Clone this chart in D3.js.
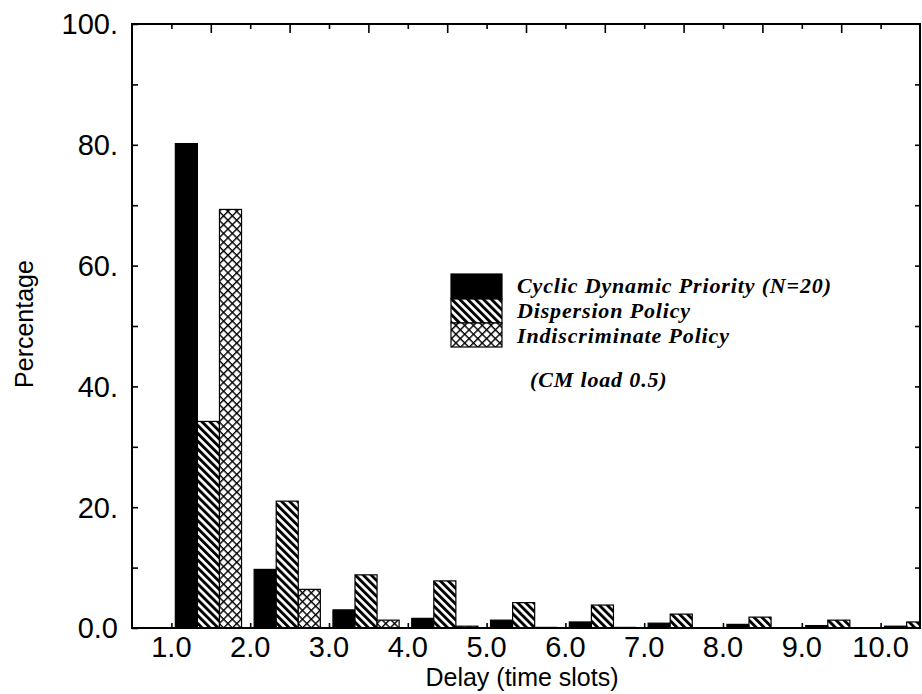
<!DOCTYPE html>
<html>
<head>
<meta charset="utf-8">
<script src="https://cdn.jsdelivr.net/npm/d3@7"></script>
<style>
  html, body { margin: 0; padding: 0; background: #fff; }
  svg { display: block; }
</style>
</head>
<body>
<svg id="chart" width="922" height="694"></svg>
<script>
// ---- data ----
const delays = [1, 2, 3, 4, 5, 6, 7, 8, 9, 10];
const cyclicDynamic = [80.2, 9.7, 3.0, 1.6, 1.3, 1.0, 0.8, 0.6, 0.4, 0.3];
const dispersion = [34.2, 21.0, 8.8, 7.8, 4.2, 3.8, 2.3, 1.8, 1.3, 1.0];
const indiscriminate = [69.3, 6.4, 1.3, 0.3, 0.1, 0.1, 0.05, 0.05, 0.05, 0.05];
const seriesNames = ["Cyclic Dynamic Priority (N=20)", "Dispersion Policy", "Indiscriminate Policy"];
const yTickValues = [0, 20, 40, 60, 80, 100];
const yTickLabels = ["0.0", "20.", "40.", "60.", "80.", "100."];
const xTickLabels = ["1.0", "2.0", "3.0", "4.0", "5.0", "6.0", "7.0", "8.0", "9.0", "10.0"];
const xTitle = "Delay (time slots)";
const yTitle = "Percentage";
const note = "(CM load 0.5)";

// ---- layout ----
const svg = d3.select("#chart");
const L = 132, R = 920, T = 24, B = 628;
const x = d3.scaleLinear().domain([0.5, 10.5]).range([L, R]);
const y = d3.scaleLinear().domain([0, 100]).range([B, T]);
const sub = d3.scaleBand().domain(seriesNames).range([0.05, 0.89]).padding(0);

// patterns
const defs = svg.append("defs");
const hp = 5.6;
const hatch = defs.append("pattern").attr("id", "hatch")
  .attr("patternUnits", "userSpaceOnUse").attr("width", hp).attr("height", hp)
  .attr("patternTransform", "rotate(-45)");
hatch.append("rect").attr("width", hp).attr("height", hp).attr("fill", "#fff");
hatch.append("rect").attr("width", 2.9).attr("height", hp).attr("fill", "#000");

const cp = 6.2;
const cross = defs.append("pattern").attr("id", "cross")
  .attr("patternUnits", "userSpaceOnUse").attr("width", cp).attr("height", cp)
  .attr("patternTransform", "rotate(45)");
cross.append("rect").attr("width", cp).attr("height", cp).attr("fill", "#fff");
cross.append("rect").attr("width", 1.4).attr("height", cp).attr("fill", "#000");
cross.append("rect").attr("width", cp).attr("height", 1.4).attr("fill", "#000");

defs.append("clipPath").attr("id", "plotclip").append("rect")
  .attr("x", L).attr("y", T).attr("width", R - L).attr("height", B - T);

const fills = ["#000", "url(#hatch)", "url(#cross)"];
const seriesData = [cyclicDynamic, dispersion, indiscriminate];

// bars
const barG = svg.append("g").attr("clip-path", "url(#plotclip)");
seriesData.forEach((vals, si) => {
  const name = seriesNames[si];
  barG.selectAll(null).data(delays.map((d, i) => ({ d, v: vals[i] })))
    .enter().append("rect")
    .attr("x", p => x(p.d + sub(name)))
    .attr("width", p => x(p.d + sub(name) + sub.bandwidth()) - x(p.d + sub(name)))
    .attr("y", p => y(p.v))
    .attr("height", p => y(0) - y(p.v))
    .attr("fill", fills[si])
    .attr("stroke", "#000").attr("stroke-width", 1.2);
});

// frame
svg.append("rect").attr("x", L).attr("y", T).attr("width", R - L).attr("height", B - T)
  .attr("fill", "none").attr("stroke", "#000").attr("stroke-width", 2);

// axes ticks
const tickStyle = g => g.selectAll("line").attr("stroke", "#000").attr("stroke-width", 1.6);
svg.append("g").attr("transform", `translate(${L},0)`)
  .call(d3.axisRight(y).tickValues(d3.range(0, 101, 10)).tickSize(6).tickFormat(""))
  .call(g => g.select(".domain").remove()).call(tickStyle);
svg.append("g").attr("transform", `translate(${R},0)`)
  .call(d3.axisLeft(y).tickValues(d3.range(10, 100, 10)).tickSize(5).tickFormat(""))
  .call(g => g.select(".domain").remove()).call(tickStyle);
svg.append("g").attr("transform", `translate(0,${B})`)
  .call(d3.axisTop(x).tickValues(delays).tickSize(5).tickFormat(""))
  .call(g => g.select(".domain").remove()).call(tickStyle);
svg.append("g").attr("transform", `translate(0,${T})`)
  .call(d3.axisBottom(x).tickValues(delays.map(d => d + 0.5).filter(d => d < 10.5)).tickSize(9).tickFormat(""))
  .call(g => g.select(".domain").remove()).call(tickStyle);
svg.append("g").attr("transform", `translate(0,${T})`)
  .call(d3.axisBottom(x).tickValues(delays).tickSize(5).tickFormat(""))
  .call(g => g.select(".domain").remove()).call(tickStyle);

// tick labels
const sans = "'Liberation Sans', Arial, Helvetica, sans-serif";
svg.append("g").selectAll("text").data(yTickValues).enter().append("text")
  .attr("x", 118).attr("y", d => y(d)).attr("dy", "0.36em")
  .attr("text-anchor", "end").attr("font-family", sans).attr("font-size", 29)
  .text((d, i) => yTickLabels[i]);
svg.append("g").selectAll("text").data(delays).enter().append("text")
  .attr("x", d => x(d)).attr("y", 657)
  .attr("text-anchor", "middle").attr("font-family", sans).attr("font-size", 29)
  .text((d, i) => xTickLabels[i]);

// axis titles
svg.append("text").attr("x", 522).attr("y", 686).attr("text-anchor", "middle")
  .attr("font-family", sans).attr("font-size", 25).text(xTitle);
svg.append("text").attr("transform", "translate(33,324) rotate(-90)").attr("text-anchor", "middle")
  .attr("font-family", sans).attr("font-size", 25).text(yTitle);

// legend
const serif = "'Liberation Serif', 'Times New Roman', serif";
const lg = svg.append("g");
const swY = [274, 299, 323], swH = [25, 24, 24];
seriesNames.forEach((n, i) => {
  lg.append("rect").attr("x", 451).attr("y", swY[i]).attr("width", 51).attr("height", swH[i])
    .attr("fill", fills[i]).attr("stroke", "#000").attr("stroke-width", 1.2);
});
const lgBase = [293, 318, 343];
seriesNames.forEach((n, i) => {
  lg.append("text").attr("x", 517).attr("y", lgBase[i])
    .attr("font-family", serif).attr("font-style", "italic").attr("font-weight", "bold")
    .attr("font-size", 22).attr("letter-spacing", 0.85).text(n);
});
lg.append("text").attr("x", 530).attr("y", 387)
  .attr("font-family", serif).attr("font-style", "italic").attr("font-weight", "bold")
  .attr("font-size", 22).attr("letter-spacing", 0.85).text(note);
</script>
</body>
</html>
